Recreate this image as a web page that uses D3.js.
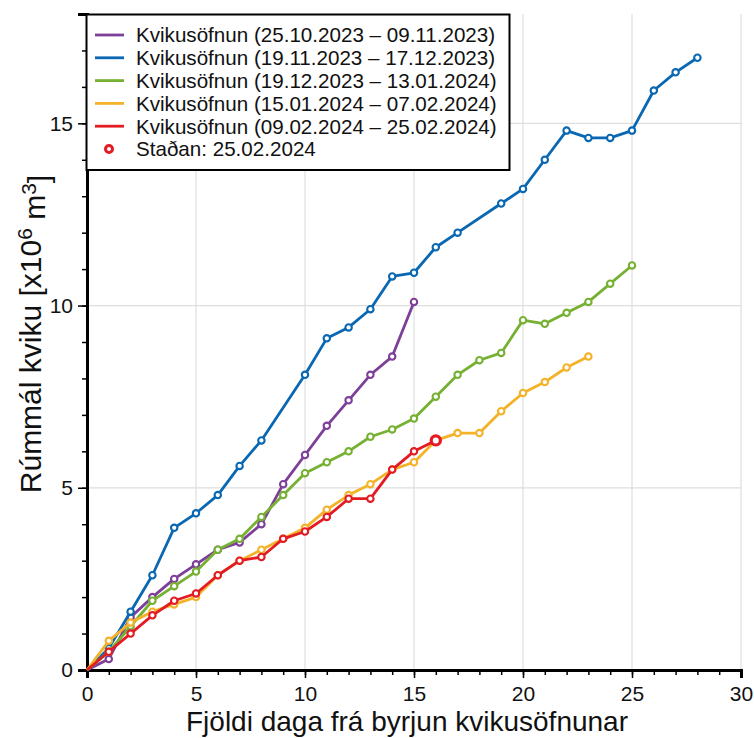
<!DOCTYPE html>
<html>
<head>
<meta charset="utf-8">
<script src="https://cdn.jsdelivr.net/npm/d3@7"></script>
<style>
  body { margin: 0; background: #fff; }
  text { font-family: "Liberation Sans", Arial, sans-serif; fill: #111; }
</style>
</head>
<body>
<div id="chart"></div>
<script>
// chart size and plot box
let width = 754, height = 738;
let plotLeft = 87, plotRight = 741, plotTop = 14, plotBottom = 670;

// DATA: volume (x10^6 m3) per day since start, null = no measurement that day
let purple = [0,0.3,1.45,2.0,2.5,2.9,3.3,3.5,4.0,5.1,5.9,6.7,7.4,8.1,8.6,10.1];
let blue = [0,0.6,1.6,2.6,3.9,4.3,4.8,5.6,6.3,null,8.1,9.1,9.4,9.9,10.8,10.9,11.6,12.0,null,12.8,13.2,14.0,14.8,14.6,14.6,14.8,15.9,16.4,16.8];
let green = [0,0.5,1.2,1.9,2.3,2.7,3.3,3.6,4.2,4.8,5.4,5.7,6.0,6.4,6.6,6.9,7.5,8.1,8.5,8.7,9.6,9.5,9.8,10.1,10.6,11.1];
let yellow = [0,0.8,1.3,1.6,1.8,2.0,2.6,3.0,3.3,3.6,3.9,4.4,4.8,5.1,5.5,5.7,6.3,6.5,6.5,7.1,7.6,7.9,8.3,8.6];
let red = [0,0.5,1.0,1.5,1.9,2.1,2.6,3.0,3.1,3.6,3.8,4.2,4.7,4.7,5.5,6.0,6.3];

let seriesNames = [
  "Kvikusöfnun (25.10.2023 – 09.11.2023)",
  "Kvikusöfnun (19.11.2023 – 17.12.2023)",
  "Kvikusöfnun (19.12.2023 – 13.01.2024)",
  "Kvikusöfnun (15.01.2024 – 07.02.2024)",
  "Kvikusöfnun (09.02.2024 – 25.02.2024)"
];
let currentLabel = "Staðan: 25.02.2024";
let xTicks = [0,5,10,15,20,25,30];
let yTicks = [0,5,10,15];

let colors = ["#7d3f98", "#0a67b2", "#76b133", "#f4b228", "#e31b23"];
let allSeries = [purple, blue, green, yellow, red];

// SCALES
let x = d3.scaleLinear().domain([0,30]).range([plotLeft,plotRight]);
let y = d3.scaleLinear().domain([0,18]).range([plotBottom,plotTop]);

let svg = d3.select("#chart").append("svg")
  .attr("width",width)
  .attr("height",height);

// GRID
svg.append("g").selectAll("line.vg")
  .data(xTicks.slice(1)).enter().append("line")
  .attr("x1",d=>x(d)).attr("x2",d=>x(d))
  .attr("y1",plotTop).attr("y2",plotBottom)
  .attr("stroke","#dedede").attr("stroke-width",1.2);
svg.append("g").selectAll("line.hg")
  .data(yTicks.slice(1)).enter().append("line")
  .attr("x1",plotLeft).attr("x2",plotRight)
  .attr("y1",d=>y(d)).attr("y2",d=>y(d))
  .attr("stroke","#dedede").attr("stroke-width",1.2);

// AXES (minor ticks every unit, major ticks every 5 with labels)
let xAxis = svg.append("g").attr("transform","translate(0,"+plotBottom+")");
xAxis.call(d3.axisBottom(x).tickValues(d3.range(0,31)).tickSize(5).tickFormat(""));
xAxis.append("g").call(d3.axisBottom(x).tickValues(xTicks).tickSize(8).tickFormat(d3.format("d")));
let yAxis = svg.append("g").attr("transform","translate("+plotLeft+",0)");
yAxis.call(d3.axisLeft(y).tickValues(d3.range(0,19)).tickSize(5).tickFormat(""));
yAxis.append("g").call(d3.axisLeft(y).tickValues(yTicks).tickSize(9).tickFormat(d3.format("d")));

svg.selectAll(".domain").attr("stroke","#000").attr("stroke-width",3);
svg.selectAll(".tick line").attr("stroke","#000").attr("stroke-width",1.5);
svg.selectAll(".tick text")
  .style("font-family","'Liberation Sans', Arial, sans-serif")
  .style("font-size","21px")
  .attr("fill","#111");
xAxis.selectAll(".tick text").attr("dy","0.95em");
yAxis.selectAll(".tick text").attr("dx","-2px");

// AXIS TITLES
svg.append("text")
  .attr("x",(plotLeft+plotRight)/2 - 7)
  .attr("y",731)
  .attr("text-anchor","middle")
  .style("font-size","28px")
  .text("Fjöldi daga frá byrjun kvikusöfnunar");

let yl = svg.append("text")
  .attr("transform","translate(41,334) rotate(-90)")
  .attr("text-anchor","middle")
  .style("font-size","30px");
yl.append("tspan").text("Rúmmál kviku [x10");
yl.append("tspan").attr("dy","-0.45em").style("font-size","21px").text("6");
yl.append("tspan").attr("dy","0.45em").text(" m");
yl.append("tspan").attr("dy","-0.45em").style("font-size","21px").text("3");
yl.append("tspan").attr("dy","0.45em").text("]");

// LINES + MARKERS
let line = d3.line().x(d=>x(d[0])).y(d=>y(d[1]));
allSeries.forEach((vals,i)=>{
  let pts = vals.map((v,d)=>[d,v]).filter(p=>p[1]!==null);
  let g = svg.append("g");
  g.append("path")
    .datum(pts)
    .attr("d",line)
    .attr("fill","none")
    .attr("stroke",colors[i])
    .attr("stroke-width",2.8)
    .attr("stroke-linejoin","round");
  g.selectAll("circle")
    .data(pts.slice(1)).enter().append("circle")
    .attr("cx",d=>x(d[0])).attr("cy",d=>y(d[1]))
    .attr("r",3.2)
    .attr("fill","#fff")
    .attr("stroke",colors[i])
    .attr("stroke-width",2.1);
});

// current state marker (last point of latest series)
let lastDay = red.length-1;
svg.append("circle")
  .attr("cx",x(lastDay)).attr("cy",y(red[lastDay]))
  .attr("r",4.6)
  .attr("fill","#fff")
  .attr("stroke",colors[4])
  .attr("stroke-width",3.2);

// LEGEND
let lg = svg.append("g");
lg.append("rect")
  .attr("x",86.5).attr("y",14.5)
  .attr("width",423).attr("height",155.5)
  .attr("fill","#fff")
  .attr("stroke","#000")
  .attr("stroke-width",2);
seriesNames.forEach((name,i)=>{
  let cy = 35 + i*22.8;
  lg.append("line")
    .attr("x1",95).attr("x2",124)
    .attr("y1",cy).attr("y2",cy)
    .attr("stroke",colors[i]).attr("stroke-width",2.8);
  lg.append("text")
    .attr("x",136).attr("y",cy)
    .attr("dy","0.36em")
    .style("font-size","20.6px")
    .text(name);
});
let cyLast = 35 + 5*22.8;
lg.append("circle")
  .attr("cx",109).attr("cy",cyLast)
  .attr("r",3.5)
  .attr("fill","#fff")
  .attr("stroke",colors[4])
  .attr("stroke-width",3);
lg.append("text")
  .attr("x",136).attr("y",cyLast)
  .attr("dy","0.36em")
  .style("font-size","20.6px")
  .text(currentLabel);
</script>
</body>
</html>
